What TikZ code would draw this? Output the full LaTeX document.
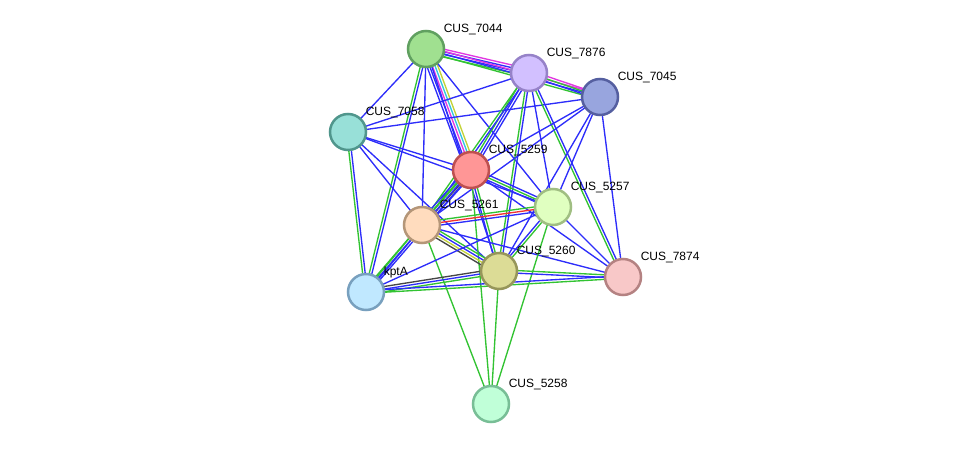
\documentclass[tikz,border=0pt]{standalone}
\usepackage{fontspec}
\setmainfont{Liberation Sans}
\usepackage{xcolor}
\usetikzlibrary{positioning,backgrounds,calc}

% evidence colours
\definecolor{sblue}{RGB}{45,45,250}
\definecolor{sgreen}{RGB}{50,195,50}
\definecolor{spink}{RGB}{225,55,225}
\definecolor{scyan}{RGB}{50,195,225}
\definecolor{syellow}{RGB}{195,210,55}
\definecolor{sblack}{RGB}{70,70,70}
\definecolor{sred}{RGB}{240,50,50}

\tikzset{
  protein/.style={draw,circle,minimum size=36pt,inner sep=0pt,line width=2.5pt},
  lbl/.style={font=\fontsize{12}{14}\selectfont,inner sep=1pt},
  link/.style={line width=1.35pt}
}

% parallel lines between two proteins, one per colour
\newcommand{\stringlink}[3]{%
  \foreach \col [count=\n] in {#3} {\xdef\nlines{\n}}
  \foreach \col [count=\i] in {#3} {
    \pgfmathsetmacro\off{(\i-(\nlines+1)/2)*2.6}
    \draw[link,\col] ($(#1)!\off pt!90:(#2)$) -- ($(#2)!\off pt!-90:(#1)$);
  }
}

\begin{document}
\begin{tikzpicture}[x=1pt,y=-1pt]
\useasboundingbox (0,0) rectangle (975,449);

% Proteins
\node[protein,fill={rgb,255:red,160;green,224;blue,144},draw={rgb,255:red,96;green,160;blue,96}] (p7044) at (426,49) {};
\node[protein,fill={rgb,255:red,210;green,192;blue,255},draw={rgb,255:red,150;green,130;blue,200}] (p7876) at (529,73) {};
\node[protein,fill={rgb,255:red,152;green,165;blue,222},draw={rgb,255:red,85;green,95;blue,160}] (p7045) at (600,97) {};
\node[protein,fill={rgb,255:red,152;green,224;blue,216},draw={rgb,255:red,80;green,150;blue,140}] (p7058) at (348,132) {};
\node[protein,fill={rgb,255:red,255;green,150;blue,150},draw={rgb,255:red,190;green,80;blue,80}] (p5259) at (471,170) {};
\node[protein,fill={rgb,255:red,224;green,255;blue,192},draw={rgb,255:red,160;green,190;blue,130}] (p5257) at (553,207) {};
\node[protein,fill={rgb,255:red,255;green,220;blue,190},draw={rgb,255:red,180;green,150;blue,120}] (p5261) at (422,225) {};
\node[protein,fill={rgb,255:red,220;green,220;blue,150},draw={rgb,255:red,150;green,150;blue,90}] (p5260) at (499,271) {};
\node[protein,fill={rgb,255:red,192;green,232;blue,255},draw={rgb,255:red,120;green,160;blue,190}] (pkptA) at (366,292) {};
\node[protein,fill={rgb,255:red,248;green,200;blue,200},draw={rgb,255:red,180;green,130;blue,130}] (p7874) at (623,277) {};
\node[protein,fill={rgb,255:red,192;green,255;blue,216},draw={rgb,255:red,120;green,190;blue,150}] (p5258) at (491,404) {};

% Labels
\node[lbl,above right=-1pt and 3pt of p7044] (t7044) {CUS\_7044};
\node[lbl,above right=-1pt and 3pt of p7876] (t7876) {CUS\_7876};
\node[lbl,above right=-1pt and 3pt of p7045] (t7045) {CUS\_7045};
\node[lbl,above right=-1pt and 3pt of p7058] (t7058) {CUS\_7058};
\node[lbl,above right=-1pt and 3pt of p5259] (t5259) {CUS\_5259};
\node[lbl,above right=-1pt and 3pt of p5257] (t5257) {CUS\_5257};
\node[lbl,above right=-1pt and 3pt of p5261] (t5261) {CUS\_5261};
\node[lbl,above right=-1pt and 3pt of p5260] (t5260) {CUS\_5260};
\node[lbl,above right=-1pt and 3pt of pkptA] (tkptA) {kptA};
\node[lbl,above right=-1pt and 3pt of p7874] (t7874) {CUS\_7874};
\node[lbl,above right=-1pt and 3pt of p5258] (t5258) {CUS\_5258};

% Interactions
\begin{scope}[on background layer]
\stringlink{p7044}{p7876}{sgreen,sblue,sblue,spink}
\stringlink{p7044}{p7045}{sgreen,sblue,spink}
\stringlink{p7876}{p7045}{sblue,sgreen,spink}
\stringlink{p7044}{p7058}{sblue}
\stringlink{p7044}{p5259}{sblue,sblue,spink,scyan,syellow}
\stringlink{p7044}{pkptA}{sgreen,sblue}
\stringlink{p7044}{p5261}{sblue}
\stringlink{p7044}{p5257}{sblue}
\stringlink{p7044}{p5260}{sblue}
\stringlink{p7058}{p7876}{sblue}
\stringlink{p7058}{p7045}{sblue}
\stringlink{p7058}{p5259}{sblue}
\stringlink{p7058}{p5257}{sblue}
\stringlink{p7058}{pkptA}{sgreen,sblue}
\stringlink{p7058}{p5261}{sblue}
\stringlink{p7058}{p5260}{sblue}
\stringlink{p7876}{p5259}{sgreen,sblue,sblue}
\stringlink{p7876}{p5261}{sgreen,sblue}
\stringlink{p7876}{p5260}{sgreen,sblue}
\stringlink{p7876}{p5257}{sblue}
\stringlink{p7876}{p7874}{sgreen,sblue}
\stringlink{p7045}{p5259}{sblue}
\stringlink{p7045}{p5261}{sblue}
\stringlink{p7045}{p5257}{sblue}
\stringlink{p7045}{p5260}{sblue}
\stringlink{p7045}{p7874}{sblue}
\stringlink{p5259}{p5257}{sblue,sgreen,sblue}
\stringlink{p5259}{p5261}{sblue,sgreen,sblack,sblue}
\stringlink{p5259}{pkptA}{sgreen,sblue,sblue}
\stringlink{p5259}{p5260}{sblue,sgreen}
\stringlink{p5259}{p7874}{sblue}
\stringlink{p5259}{p5258}{sgreen}
\stringlink{p5261}{p5257}{sblue,sred,sgreen}
\stringlink{p5261}{p5260}{sblack,syellow,sblue,sgreen}
\stringlink{p5261}{pkptA}{sgreen,sblue}
\stringlink{p5261}{p7874}{sblue}
\stringlink{p5261}{p5258}{sgreen}
\stringlink{p5257}{p5260}{sblue,sgreen}
\stringlink{p5257}{pkptA}{sblue}
\stringlink{p5257}{p7874}{sblue}
\stringlink{p5257}{p5258}{sgreen}
\stringlink{p5260}{pkptA}{sblack,sblue,sgreen}
\stringlink{p5260}{p7874}{sblue,sgreen}
\stringlink{p5260}{p5258}{sgreen}
\stringlink{pkptA}{p7874}{sgreen,sblue}
\end{scope}

\end{tikzpicture}
\end{document}
